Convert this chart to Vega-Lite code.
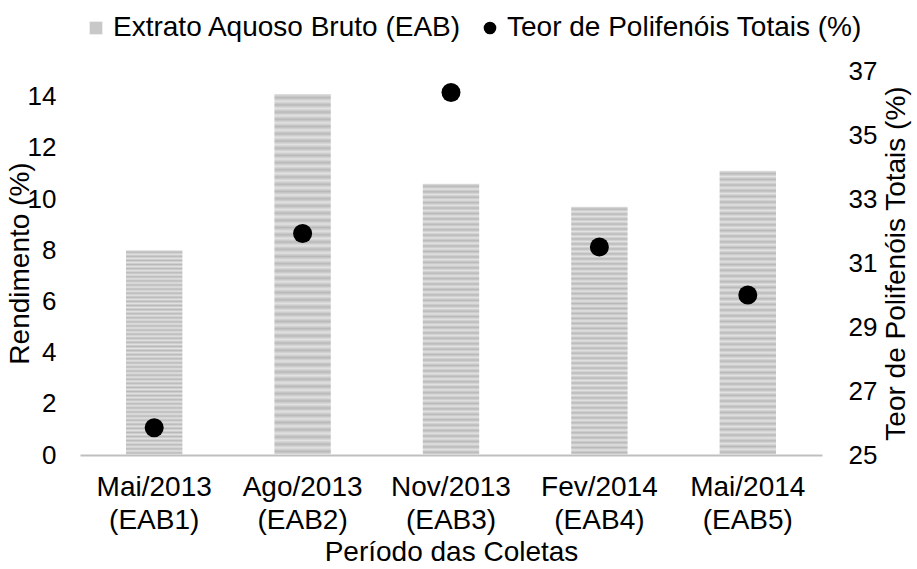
{
  "$schema": "https://vega.github.io/schema/vega-lite/v6.json",
  "width": 742,
  "height": 384,
  "autosize": {"type": "none"},
  "padding": {"left": 80, "top": 71, "right": 95, "bottom": 114},
  "background": "white",
  "config": {
    "view": {"stroke": null},
    "font": "Liberation Sans",
    "axis": {
      "labelFontSize": 26,
      "labelColor": "#000000",
      "titleFontSize": 28,
      "titleFontWeight": "normal",
      "titleColor": "#000000",
      "ticks": false,
      "grid": false,
      "domain": false
    },
    "legend": {
      "labelFontSize": 28,
      "labelColor": "#000000",
      "labelLimit": 0
    }
  },
  "data": {
    "values": [
      {"periodo": "Mai/2013 (EAB1)", "rendimento": 8.0, "polifenois": 25.85},
      {"periodo": "Ago/2013 (EAB2)", "rendimento": 14.1, "polifenois": 31.92},
      {"periodo": "Nov/2013 (EAB3)", "rendimento": 10.6, "polifenois": 36.33},
      {"periodo": "Fev/2014 (EAB4)", "rendimento": 9.7, "polifenois": 31.5},
      {"periodo": "Mai/2014 (EAB5)", "rendimento": 11.1, "polifenois": 30.0}
    ]
  },
  "encoding": {
    "x": {
      "field": "periodo",
      "type": "nominal",
      "sort": null,
      "scale": {"paddingInner": 0.62, "paddingOuter": 0.31},
      "axis": {
        "labelExpr": "split(datum.label, ' ')",
        "labelAngle": 0,
        "labelFontSize": 28,
        "labelPadding": 18,
        "labelLineHeight": 33,
        "domain": true,
        "domainColor": "#bfbfbf",
        "domainWidth": 2,
        "title": "Período das Coletas",
        "titlePadding": 4
      }
    }
  },
  "layer": [
    {
      "mark": {
        "type": "bar",
        "fill": {
          "gradient": "linear",
          "x1": 0, "y1": 0, "x2": 0, "y2": 1,
          "stops": [
            {"offset": 0.0, "color": "#e2e2e2"},
            {"offset": 0.01, "color": "#b9b9b9"},
            {"offset": 0.02, "color": "#e2e2e2"},
            {"offset": 0.03, "color": "#b9b9b9"},
            {"offset": 0.04, "color": "#e2e2e2"},
            {"offset": 0.05, "color": "#b9b9b9"},
            {"offset": 0.06, "color": "#e2e2e2"},
            {"offset": 0.07, "color": "#b9b9b9"},
            {"offset": 0.08, "color": "#e2e2e2"},
            {"offset": 0.09, "color": "#b9b9b9"},
            {"offset": 0.10, "color": "#e2e2e2"},
            {"offset": 0.11, "color": "#b9b9b9"},
            {"offset": 0.12, "color": "#e2e2e2"},
            {"offset": 0.13, "color": "#b9b9b9"},
            {"offset": 0.14, "color": "#e2e2e2"},
            {"offset": 0.15, "color": "#b9b9b9"},
            {"offset": 0.16, "color": "#e2e2e2"},
            {"offset": 0.17, "color": "#b9b9b9"},
            {"offset": 0.18, "color": "#e2e2e2"},
            {"offset": 0.19, "color": "#b9b9b9"},
            {"offset": 0.20, "color": "#e2e2e2"},
            {"offset": 0.21, "color": "#b9b9b9"},
            {"offset": 0.22, "color": "#e2e2e2"},
            {"offset": 0.23, "color": "#b9b9b9"},
            {"offset": 0.24, "color": "#e2e2e2"},
            {"offset": 0.25, "color": "#b9b9b9"},
            {"offset": 0.26, "color": "#e2e2e2"},
            {"offset": 0.27, "color": "#b9b9b9"},
            {"offset": 0.28, "color": "#e2e2e2"},
            {"offset": 0.29, "color": "#b9b9b9"},
            {"offset": 0.30, "color": "#e2e2e2"},
            {"offset": 0.31, "color": "#b9b9b9"},
            {"offset": 0.32, "color": "#e2e2e2"},
            {"offset": 0.33, "color": "#b9b9b9"},
            {"offset": 0.34, "color": "#e2e2e2"},
            {"offset": 0.35, "color": "#b9b9b9"},
            {"offset": 0.36, "color": "#e2e2e2"},
            {"offset": 0.37, "color": "#b9b9b9"},
            {"offset": 0.38, "color": "#e2e2e2"},
            {"offset": 0.39, "color": "#b9b9b9"},
            {"offset": 0.40, "color": "#e2e2e2"},
            {"offset": 0.41, "color": "#b9b9b9"},
            {"offset": 0.42, "color": "#e2e2e2"},
            {"offset": 0.43, "color": "#b9b9b9"},
            {"offset": 0.44, "color": "#e2e2e2"},
            {"offset": 0.45, "color": "#b9b9b9"},
            {"offset": 0.46, "color": "#e2e2e2"},
            {"offset": 0.47, "color": "#b9b9b9"},
            {"offset": 0.48, "color": "#e2e2e2"},
            {"offset": 0.49, "color": "#b9b9b9"},
            {"offset": 0.50, "color": "#e2e2e2"},
            {"offset": 0.51, "color": "#b9b9b9"},
            {"offset": 0.52, "color": "#e2e2e2"},
            {"offset": 0.53, "color": "#b9b9b9"},
            {"offset": 0.54, "color": "#e2e2e2"},
            {"offset": 0.55, "color": "#b9b9b9"},
            {"offset": 0.56, "color": "#e2e2e2"},
            {"offset": 0.57, "color": "#b9b9b9"},
            {"offset": 0.58, "color": "#e2e2e2"},
            {"offset": 0.59, "color": "#b9b9b9"},
            {"offset": 0.60, "color": "#e2e2e2"},
            {"offset": 0.61, "color": "#b9b9b9"},
            {"offset": 0.62, "color": "#e2e2e2"},
            {"offset": 0.63, "color": "#b9b9b9"},
            {"offset": 0.64, "color": "#e2e2e2"},
            {"offset": 0.65, "color": "#b9b9b9"},
            {"offset": 0.66, "color": "#e2e2e2"},
            {"offset": 0.67, "color": "#b9b9b9"},
            {"offset": 0.68, "color": "#e2e2e2"},
            {"offset": 0.69, "color": "#b9b9b9"},
            {"offset": 0.70, "color": "#e2e2e2"},
            {"offset": 0.71, "color": "#b9b9b9"},
            {"offset": 0.72, "color": "#e2e2e2"},
            {"offset": 0.73, "color": "#b9b9b9"},
            {"offset": 0.74, "color": "#e2e2e2"},
            {"offset": 0.75, "color": "#b9b9b9"},
            {"offset": 0.76, "color": "#e2e2e2"},
            {"offset": 0.77, "color": "#b9b9b9"},
            {"offset": 0.78, "color": "#e2e2e2"},
            {"offset": 0.79, "color": "#b9b9b9"},
            {"offset": 0.80, "color": "#e2e2e2"},
            {"offset": 0.81, "color": "#b9b9b9"},
            {"offset": 0.82, "color": "#e2e2e2"},
            {"offset": 0.83, "color": "#b9b9b9"},
            {"offset": 0.84, "color": "#e2e2e2"},
            {"offset": 0.85, "color": "#b9b9b9"},
            {"offset": 0.86, "color": "#e2e2e2"},
            {"offset": 0.87, "color": "#b9b9b9"},
            {"offset": 0.88, "color": "#e2e2e2"},
            {"offset": 0.89, "color": "#b9b9b9"},
            {"offset": 0.90, "color": "#e2e2e2"},
            {"offset": 0.91, "color": "#b9b9b9"},
            {"offset": 0.92, "color": "#e2e2e2"},
            {"offset": 0.93, "color": "#b9b9b9"},
            {"offset": 0.94, "color": "#e2e2e2"},
            {"offset": 0.95, "color": "#b9b9b9"},
            {"offset": 0.96, "color": "#e2e2e2"},
            {"offset": 0.97, "color": "#b9b9b9"},
            {"offset": 0.98, "color": "#e2e2e2"},
            {"offset": 0.99, "color": "#b9b9b9"},
            {"offset": 1.0, "color": "#e2e2e2"}
          ]
        }
      },
      "encoding": {
        "y": {
          "field": "rendimento",
          "type": "quantitative",
          "scale": {"domain": [0, 15], "nice": false},
          "axis": {
            "orient": "left",
            "values": [0, 2, 4, 6, 8, 10, 12, 14],
            "labelPadding": 24,
            "title": "Rendimento (%)",
            "titleX": -46
          }
        }
      }
    },
    {
      "mark": {"type": "point", "filled": true, "size": 361, "opacity": 1},
      "encoding": {
        "y": {
          "field": "polifenois",
          "type": "quantitative",
          "scale": {"domain": [25, 37], "nice": false},
          "axis": {
            "orient": "right",
            "values": [25, 27, 29, 31, 33, 35, 37],
            "labelPadding": 26,
            "title": "Teor de Polifenóis Totais (%)",
            "titleAngle": 270,
            "titleX": 88
          }
        },
        "color": {
          "datum": "Teor de Polifenóis Totais (%)",
          "type": "nominal",
          "scale": {
            "domain": ["Extrato Aquoso Bruto (EAB)", "Teor de Polifenóis Totais (%)"],
            "range": ["#c8c8c8", "#000000"]
          },
          "legend": {
            "title": null,
            "orient": "none",
            "direction": "horizontal",
            "legendX": 2,
            "legendY": -57,
            "symbolSize": 160,
            "symbolStrokeWidth": 0,
            "labelOffset": 3,
            "columnPadding": 14
          }
        },
        "shape": {
          "datum": "Teor de Polifenóis Totais (%)",
          "type": "nominal",
          "scale": {
            "domain": ["Extrato Aquoso Bruto (EAB)", "Teor de Polifenóis Totais (%)"],
            "range": ["square", "circle"]
          },
          "legend": {
            "title": null,
            "orient": "none",
            "direction": "horizontal",
            "legendX": 2,
            "legendY": -57,
            "symbolSize": 160,
            "symbolStrokeWidth": 0,
            "labelOffset": 3,
            "columnPadding": 14
          }
        }
      }
    }
  ],
  "resolve": {"scale": {"y": "independent"}}
}
